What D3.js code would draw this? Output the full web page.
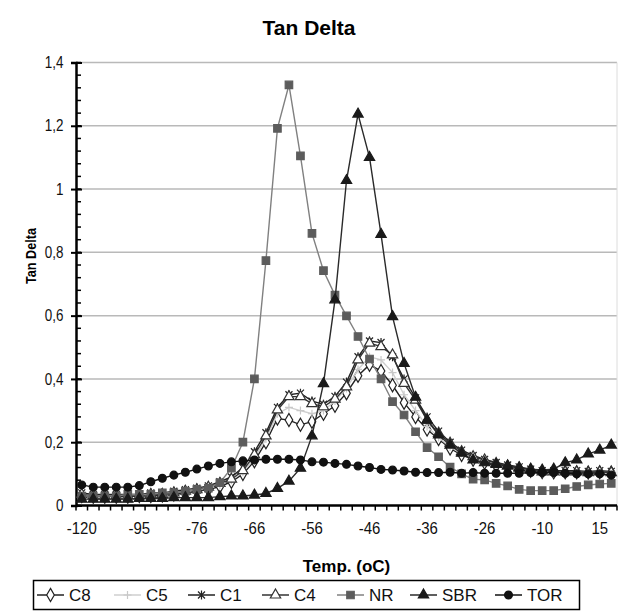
<!DOCTYPE html>
<html>
<head>
<meta charset="utf-8">
<title>Tan Delta</title>
<script src="https://cdn.jsdelivr.net/npm/d3@7"></script>
<style>
  body { margin: 0; background: #fff; }
  svg { display: block; font-family: "Liberation Sans", Arial, sans-serif; }
</style>
</head>
<body>
<div id="chart"></div>
<script>
// category axis: 47 measuring points, every 5th one labelled
var nCats = 47;
var tickLabels = ["-120", "-95", "-76", "-66", "-56", "-46", "-36", "-26", "-10", "15"];

// tan delta values, one per category
var c8 = [0.03, 0.028, 0.028, 0.028, 0.028, 0.03, 0.03, 0.032, 0.035, 0.04, 0.045, 0.05, 0.06,
  0.075, 0.1, 0.14, 0.2, 0.275, 0.27, 0.255, 0.265, 0.29, 0.315, 0.355, 0.41, 0.445, 0.425,
  0.38, 0.325, 0.28, 0.24, 0.21, 0.18, 0.16, 0.145, 0.135, 0.126, 0.12, 0.115, 0.11, 0.106,
  0.105, 0.105, 0.105, 0.104, 0.105, 0.104];
var c5 = [0.035, 0.032, 0.032, 0.032, 0.032, 0.032, 0.035, 0.036, 0.04, 0.045, 0.05, 0.055, 0.065,
  0.08, 0.105, 0.15, 0.21, 0.29, 0.31, 0.3, 0.29, 0.3, 0.33, 0.37, 0.43, 0.47, 0.46,
  0.42, 0.35, 0.3, 0.25, 0.215, 0.185, 0.165, 0.15, 0.14, 0.13, 0.122, 0.117, 0.112, 0.108,
  0.108, 0.108, 0.108, 0.106, 0.108, 0.106];
var c1 = [0.04, 0.035, 0.035, 0.035, 0.035, 0.035, 0.04, 0.04, 0.045, 0.05, 0.055, 0.062, 0.075,
  0.09, 0.12, 0.17, 0.23, 0.31, 0.35, 0.355, 0.33, 0.32, 0.345, 0.39, 0.47, 0.52, 0.515,
  0.47, 0.4, 0.34, 0.28, 0.235, 0.2, 0.175, 0.158, 0.146, 0.136, 0.128, 0.122, 0.115, 0.11,
  0.11, 0.11, 0.11, 0.108, 0.11, 0.108];
var c4 = [0.035, 0.03, 0.03, 0.03, 0.03, 0.03, 0.035, 0.035, 0.04, 0.045, 0.05, 0.058, 0.07,
  0.083, 0.11, 0.16, 0.22, 0.302, 0.344, 0.344, 0.322, 0.312, 0.336, 0.375, 0.46, 0.513, 0.502,
  0.476, 0.386, 0.333, 0.27, 0.228, 0.197, 0.17, 0.154, 0.144, 0.133, 0.125, 0.12, 0.112, 0.106,
  0.106, 0.106, 0.106, 0.104, 0.106, 0.104];
var nr = [0.03, 0.03, 0.03, 0.03, 0.035, 0.035, 0.035, 0.04, 0.04, 0.045, 0.05, 0.055, 0.072,
  0.118, 0.2, 0.4, 0.774, 1.192, 1.329, 1.105, 0.86, 0.742, 0.665, 0.599, 0.534, 0.463, 0.4,
  0.328, 0.286, 0.233, 0.183, 0.154, 0.121, 0.1, 0.083, 0.081, 0.07, 0.062, 0.051, 0.047, 0.047,
  0.047, 0.053, 0.06, 0.065, 0.068, 0.07];
var sbr = [0.02, 0.02, 0.02, 0.02, 0.02, 0.022, 0.022, 0.022, 0.025, 0.025, 0.025, 0.025, 0.028,
  0.03, 0.03, 0.033, 0.038, 0.054, 0.077, 0.118, 0.22, 0.385, 0.65, 1.027, 1.237, 1.1, 0.857,
  0.597, 0.449, 0.342, 0.27, 0.223, 0.191, 0.165, 0.144, 0.135, 0.13, 0.125, 0.118, 0.115, 0.112,
  0.115, 0.135, 0.144, 0.163, 0.175, 0.191];
var tor = [0.065, 0.058, 0.058, 0.058, 0.058, 0.063, 0.075, 0.086, 0.096, 0.105, 0.115, 0.125, 0.133,
  0.138, 0.141, 0.144, 0.146, 0.146, 0.146, 0.144, 0.138, 0.137, 0.133, 0.13, 0.125, 0.12, 0.114,
  0.112, 0.109, 0.105, 0.104, 0.104, 0.105, 0.102, 0.104, 0.102, 0.102, 0.102, 0.102, 0.104, 0.104,
  0.104, 0.102, 0.1, 0.1, 0.1, 0.096];

var seriesNames = ["C8", "C5", "C1", "C4", "NR", "SBR", "TOR"];
var seriesValues = [c8, c5, c1, c4, nr, sbr, tor];

var width = 618, height = 616;
var plotLeft = 76, plotRight = 617, plotTop = 62.5, plotBottom = 505.5;

// line colour, marker fill, marker stroke, marker kind
var looks = {
  C8:  { line: "#222", fill: "#fff", stroke: "#222", kind: "diamond" },
  C5:  { line: "#cfcfcf", fill: "none", stroke: "#c8c8c8", kind: "plus" },
  C1:  { line: "#222", fill: "none", stroke: "#222", kind: "star" },
  C4:  { line: "#333", fill: "#fff", stroke: "#333", kind: "triangle" },
  NR:  { line: "#808080", fill: "#5c5c5c", stroke: "#5c5c5c", kind: "square" },
  SBR: { line: "#2a2a2a", fill: "#1a1a1a", stroke: "#1a1a1a", kind: "triangle" },
  TOR: { line: "#111", fill: "#111", stroke: "#111", kind: "circle" }
};

var svg = d3.select("#chart").append("svg")
  .attr("width", width)
  .attr("height", height);

var x = d3.scaleBand().domain(d3.range(nCats)).range([plotLeft, plotRight]).padding(0);
var y = d3.scaleLinear().domain([0, 1.4]).range([plotBottom, plotTop]);
var cx = function(i) { return x(i) + x.bandwidth() / 2; };

// gridlines
svg.append("g").selectAll("line")
  .data(d3.range(1, 8).map(function(k) { return k * 0.2; }))
  .enter().append("line")
  .attr("x1", plotLeft).attr("x2", plotRight)
  .attr("y1", function(d) { return y(d); })
  .attr("y2", function(d) { return y(d); })
  .attr("stroke", "#b9b9b9")
  .attr("stroke-width", 1.5);

// faint right edge of plot area
svg.append("line")
  .attr("x1", plotRight).attr("x2", plotRight)
  .attr("y1", plotTop).attr("y2", plotBottom)
  .attr("stroke", "#dcdcdc");

// y axis
var fmt = function(d) {
  var r = Math.round(d * 10) / 10;
  return (r === Math.round(r)) ? String(r) : r.toFixed(1).replace(".", ",");
};
var yAxis = svg.append("g")
  .attr("transform", "translate(" + plotLeft + ",0)")
  .call(d3.axisLeft(y).tickValues(d3.range(0, 8).map(function(k) { return k * 0.2; }))
    .tickFormat(fmt).tickSize(5).tickPadding(10));
yAxis.select(".domain").attr("stroke", "#000").attr("stroke-width", 2.5);
yAxis.selectAll(".tick line").attr("x2", -5).attr("x1", 6).attr("stroke", "#000").attr("stroke-width", 2);
yAxis.selectAll("text").attr("font-size", 16).attr("fill", "#111")
  .attr("transform", "scale(0.84,1)");

// minor ticks inside
svg.append("g").selectAll("line")
  .data(d3.range(0, 36).map(function(k) { return k * 0.04; }))
  .enter().append("line")
  .attr("x1", plotLeft).attr("x2", plotLeft + 5)
  .attr("y1", function(d) { return y(d); })
  .attr("y2", function(d) { return y(d); })
  .attr("stroke", "#000").attr("stroke-width", 1.5);

// x axis: ticks at each category boundary, label every 5th
var xb = d3.scaleLinear().domain([0, nCats]).range([plotLeft, plotRight]);
svg.append("line")
  .attr("x1", plotLeft).attr("x2", plotRight)
  .attr("y1", plotBottom).attr("y2", plotBottom)
  .attr("stroke", "#000").attr("stroke-width", 2.5);
svg.append("g").selectAll("line")
  .data(d3.range(0, nCats + 1))
  .enter().append("line")
  .attr("x1", function(d) { return xb(d); })
  .attr("x2", function(d) { return xb(d); })
  .attr("y1", plotBottom).attr("y2", plotBottom + 5)
  .attr("stroke", "#000").attr("stroke-width", 1.5);

var xAxis = svg.append("g")
  .attr("transform", "translate(0," + plotBottom + ")")
  .call(d3.axisBottom(x)
    .tickValues(tickLabels.map(function(d, k) { return k * 5; }))
    .tickFormat(function(d) { return tickLabels[d / 5]; })
    .tickSize(0).tickPadding(16.5));
xAxis.select(".domain").remove();
xAxis.selectAll("text").attr("font-size", 17).attr("fill", "#111")
  .attr("transform", "scale(0.88,1)");

// marker shapes
function markerPath(kind) {
  if (kind === "diamond") return d3.symbol(d3.symbolDiamond, 50)();
  if (kind === "square") return d3.symbol(d3.symbolSquare, 56)();
  if (kind === "triangle") return d3.symbol(d3.symbolTriangle, 46)();
  if (kind === "circle") return d3.symbol(d3.symbolCircle, 48)();
  if (kind === "plus") return "M-4,0H4M0,-4V4";
  if (kind === "star") return "M-3.5,-3.5L3.5,3.5M-3.5,3.5L3.5,-3.5M0,-4.5V4.5";
  return "";
}

var line = d3.line()
  .x(function(d, i) { return cx(i); })
  .y(function(d) { return y(d); });

seriesNames.forEach(function(name, s) {
  var look = looks[name];
  var vals = seriesValues[s];
  var g = svg.append("g");
  g.append("path")
    .attr("d", line(vals))
    .attr("fill", "none")
    .attr("stroke", look.line)
    .attr("stroke-width", 1.4);
  g.selectAll("path.m").data(vals).enter().append("path")
    .attr("class", "m")
    .attr("d", markerPath(look.kind))
    .attr("transform", function(d, i) { return "translate(" + cx(i) + "," + y(d) + ")"; })
    .attr("fill", look.fill)
    .attr("stroke", look.stroke)
    .attr("stroke-width", 1.2);
});

// titles
svg.append("text")
  .attr("x", 309).attr("y", 35)
  .attr("text-anchor", "middle")
  .attr("font-size", 21).attr("font-weight", "bold")
  .text("Tan Delta");

svg.append("text")
  .attr("x", (plotLeft + plotRight) / 2).attr("y", 572)
  .attr("text-anchor", "middle")
  .attr("font-size", 17).attr("font-weight", "bold")
  .text("Temp. (oC)");

svg.append("text")
  .attr("transform", "translate(36,256) rotate(-90)")
  .attr("text-anchor", "middle")
  .attr("font-size", 15).attr("font-weight", "bold")
  .attr("textLength", 56).attr("lengthAdjust", "spacingAndGlyphs")
  .text("Tan Delta");

// legend
var legend = svg.append("g");
legend.append("rect")
  .attr("x", 33.5).attr("y", 580.5)
  .attr("width", 546).attr("height", 29)
  .attr("fill", "#fff").attr("stroke", "#000").attr("stroke-width", 1.5);

var legendX = [37, 114, 188, 262, 337, 410, 495];
seriesNames.forEach(function(name, s) {
  var look = looks[name];
  var lx = legendX[s], ly = 595;
  var item = legend.append("g");
  item.append("line")
    .attr("x1", lx).attr("x2", lx + 27)
    .attr("y1", ly).attr("y2", ly)
    .attr("stroke", look.line).attr("stroke-width", 1.5);
  item.append("path")
    .attr("d", markerPath(look.kind))
    .attr("transform", "translate(" + (lx + 13.5) + "," + ly + ")")
    .attr("fill", look.fill).attr("stroke", look.stroke).attr("stroke-width", 1.2);
  item.append("text")
    .attr("x", lx + 32).attr("y", ly + 6)
    .attr("font-size", 17).attr("fill", "#111")
    .text(name);
});
</script>
</body>
</html>
